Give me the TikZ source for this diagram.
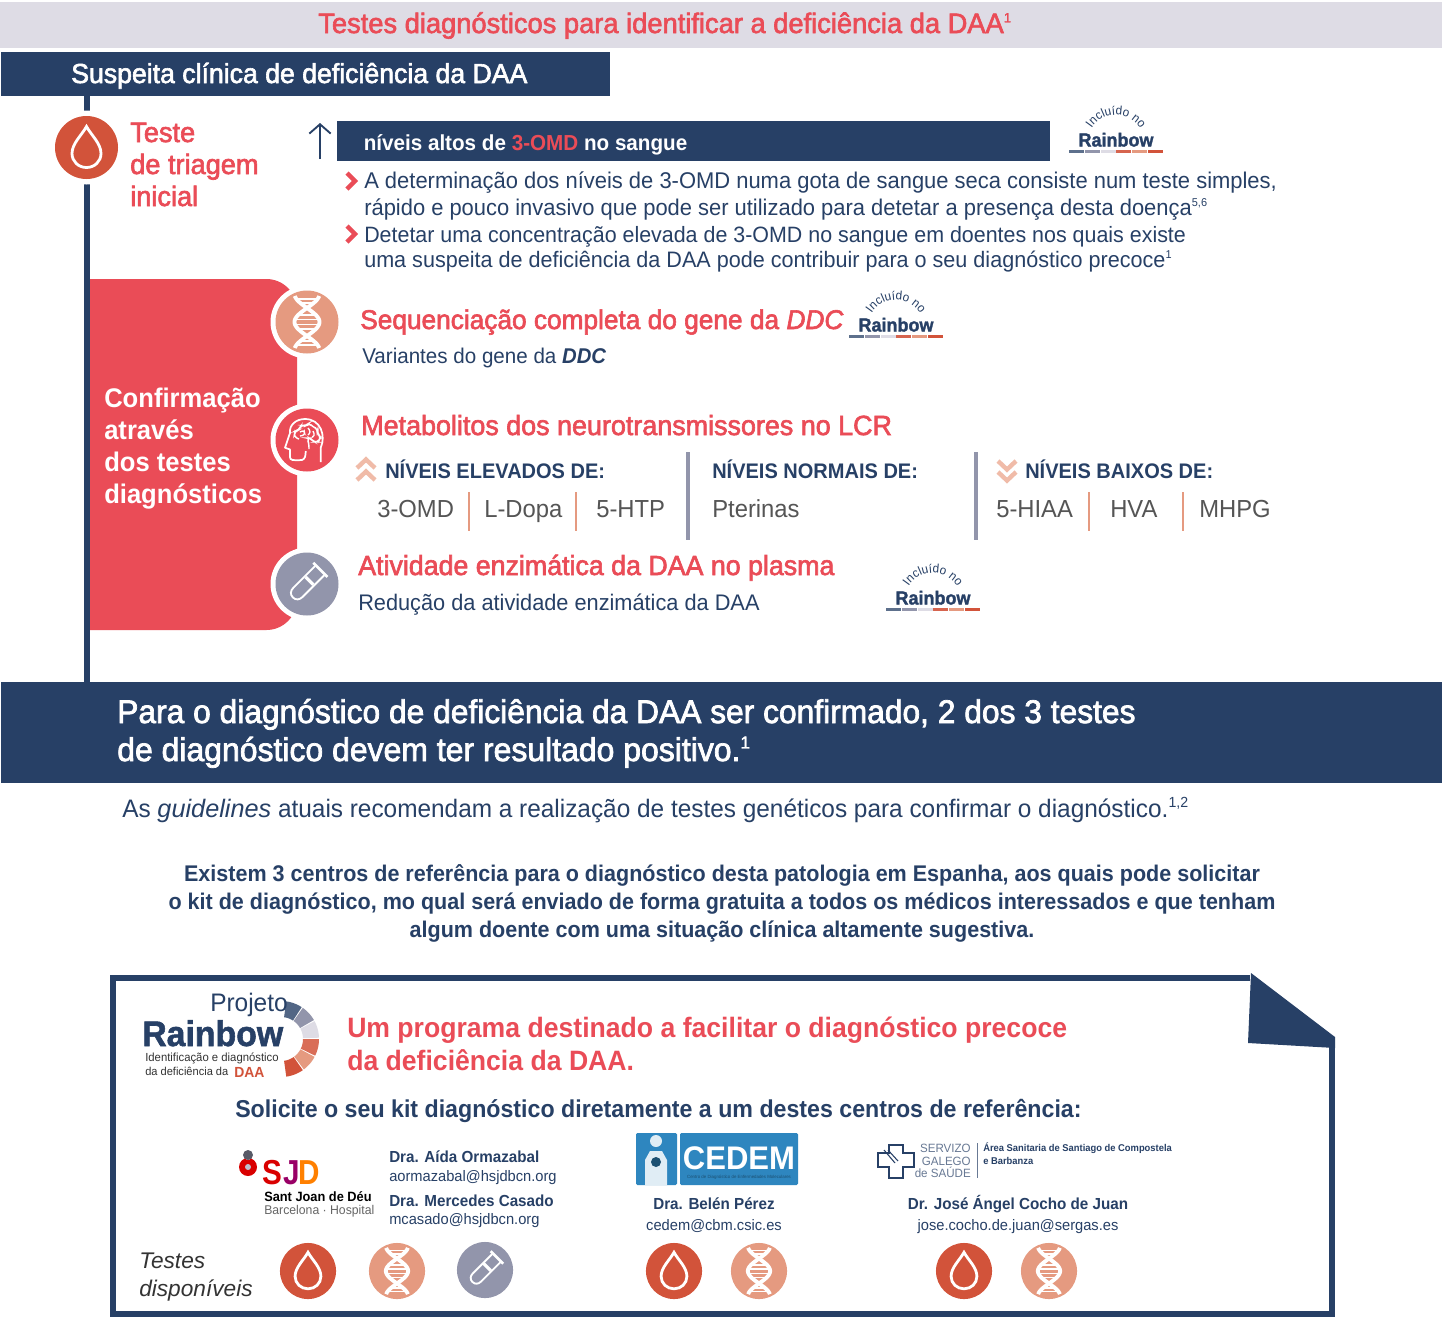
\documentclass[tikz,border=0pt]{standalone}
\usepackage{fontspec}
\setmainfont{Liberation Sans}[UprightFeatures={FakeStretch=.965},BoldFeatures={FakeStretch=.95},BoldItalicFeatures={FakeStretch=.95}]
\newfontfamily\medf{Liberation Sans}[FakeStretch=.97,FakeBold=2.2]
\newfontfamily\heavyf{Liberation Sans}[UprightFont={* Bold},FakeStretch=.95,FakeBold=1.5]
\usetikzlibrary{positioning,arrows.meta,decorations.text}
\definecolor{navy}{HTML}{274066}
\definecolor{redt}{HTML}{EA4C57}
\definecolor{rust}{HTML}{D2533A}
\definecolor{peach}{HTML}{E59A80}
\definecolor{slate}{HTML}{9295AB}
\definecolor{lilac}{HTML}{DEDCE5}
\definecolor{chev}{HTML}{F0BBA8}
\definecolor{darkt}{HTML}{555555}
\definecolor{cedem}{HTML}{2E86BF}
\newcommand{\fz}[1]{\fontsize{#1}{#1}\selectfont}
\newcommand{\sps}[2]{\raisebox{.38em}{\fz{#1}#2}}
\tikzset{
    x=0.75pt,y=-0.75pt,
    lbl/.style={anchor=base west,inner sep=0,text=navy},
    ctr/.style={anchor=base,inner sep=0,text=navy},
    head/.style={lbl,text=redt,font=\medf\fz{20.5}},
    sepline/.style={draw=peach,line width=1.6pt},
    levsep/.style={draw=slate,line width=3pt},
    doublechev/.style={draw=chev,line width=3.3pt,miter limit=10},
    pics/dropicon/.style={code={
        \fill[rust] (0,0) circle[radius=31.5];
        \draw[white,line width=2.1pt] (0,-21) .. controls (-5,-12) and (-14.5,-4) .. (-14.5,6)
            .. controls (-14.5,14) and (-8,20) .. (0,20) .. controls (8,20) and (14.5,14) .. (14.5,6)
            .. controls (14.5,-4) and (5,-12) .. (0,-21) -- cycle;
    }},
    pics/dnaicon/.style={code={
        \fill[peach] (0,0) circle[radius=31.5];
        \foreach \s in {1,-1} {
            \draw[white,line width=2.9pt] plot[domain=-26:26,samples=40,smooth] ({\s*12.5*cos(6.43*\x)},\x);
        }
        \foreach \r in {-23,-19,-7,-2.5,2.5,7,19,23} {
            \draw[white,line width=1.1pt] ({-12.5*abs(cos(6.43*\r))},\r) -- ({12.5*abs(cos(6.43*\r))},\r);
        }
    }},
    pics/brainicon/.style={code={
        \fill[redt] (0,0) circle[radius=31.5];
        %Head
        \draw[white,line width=1.3pt,line join=round] (13.7,22) -- (13.7,7.7) .. controls (19,-4) and (14,-21) .. (-2,-21)
            .. controls (-11,-21) and (-18,-15) .. (-17,-7) -- (-22,7.7) -- (-17,9.5) -- (-17,17)
            .. controls (-17,20.5) and (-14,20.5) .. (-5,20) .. controls (-2,19) and (-1.3,16) .. (-1.3,11);
        %Lobes
        \draw[white,line width=1.1pt,rounded corners=2.5pt] (-8,-1) -- (-13,-3) -- (-12,-9) -- (-8,-10) -- (-6,-15) -- (-1,-14)
            -- (2,-17) -- (6,-13) -- (11,-11) -- (10,-7) -- (14,-3) -- (11,2) -- (7,2) -- (3,-2) -- (0,-2) -- (2,4) -- (2,9);
        \draw[white,line width=1pt,rounded corners=2pt] (-7,-8) -- (-3,-10) -- (-2,-5) -- (-7,-4);
        \draw[white,line width=1pt,rounded corners=2pt] (1,-12) -- (4,-8) -- (1,-5) (6,-9) -- (8,-4) -- (5,-3);
    }},
    pics/tubeicon/.style={code={
        \fill[slate] (0,0) circle[radius=31.5];
        \begin{scope}[rotate=-45,shift={(-.5,-.5)}]
            \draw[white,line width=2.4pt] (-5.5,-3.5) -- (5.5,-3.5);
            \draw[white,line width=1.4pt] (-6.5,-18) -- (-6.5,13) .. controls (-6.5,17) and (-4,20) .. (0,20)
                .. controls (4,20) and (6.5,17) .. (6.5,13) -- (6.5,-18);
            \draw[white,line width=2pt] (-10,-19) -- (10,-19);
        \end{scope}
    }},
    pics/rainbowtag/.style={code={
        \path[postaction={decorate},decoration={text along path,text align=center,
            text={|\fz{9.2}\color{navy}|Incluído no}}] (-29,4) .. controls (-29,-12) and (-16,-25) .. (0,-25)
            .. controls (16,-25) and (29,-12) .. (29,4);
        \node[ctr] (word) at (0,6.5) {\heavyf\fz{14.2}Rainbow};
        \foreach \k/\c in {0/navy!75,1/slate,2/lilac,3/rust!90!white,4/peach,5/rust} {
            \fill[\c] (-47+\k*15.8,9.5) rectangle (-32+\k*15.8,12.5);
        }
    }},
}
\begin{document}
\begin{tikzpicture}
    \useasboundingbox (0,0) rectangle (1442,1318);
    \fill[white] (0,0) rectangle (1442,1318);
    %Title
    \fill[lilac] (0,2) rectangle (1442,48);
    \node[head,anchor=base west,font=\medf\fz{21.1}] (title) at (318,33) {Testes diagnósticos para identificar a deficiência da DAA\sps{10}{1}};
    %Spine
    \coordinate (spinetop) at (87,96);
    \coordinate (spinebot) at (87,683);
    \draw[navy,line width=4.5pt] (spinetop) -- (spinebot);
    \node[rectangle,fill=navy,anchor=north west,minimum width=456.75pt,minimum height=33pt,inner sep=0] (suspeita) at (1,52) {};
    \node[lbl,text=white,font=\medf\fz{20.6}] (suspeitatxt) at (71,83) {Suspeita clínica de deficiência da DAA};
    %Screening
    \fill[white] (86.5,147.5) circle[radius=37];
    \pic at (86.5,147.5) {dropicon};
    \node[head,font=\medf\fz{21}] (teste) at (130,142) {Teste};
    \node[head,font=\medf\fz{21}] (triagem) at (130,174) {de triagem};
    \node[head,font=\medf\fz{21}] (inicial) at (130,206) {inicial};
    \coordinate (arrowbot) at (320,159);
    \coordinate (arrowtop) at (320,123);
    \draw[-{Straight Barb[length=7pt,width=16pt]},navy,line width=1.4pt] (arrowbot) -- (arrowtop);
    \node[rectangle,fill=navy,anchor=north west,minimum width=534.75pt,minimum height=30pt,inner sep=0] (altos) at (337,121) {};
    \node[lbl,text=white] (altostxt) at (363.5,150) {\fz{16.3}\bfseries níveis altos de \textcolor{redt}{3-OMD} no sangue};
    \pic (tagA) at (1116,140) {rainbowtag};
    \foreach \y in {181,234} {
        \draw[redt,line width=3.2pt] (347,\y-8) -- (355,\y) -- (347,\y+8);
    }
    \node[lbl] (det1) at (364,188) {\fz{17.06}A determinação dos níveis de 3-OMD numa gota de sangue seca consiste num teste simples,};
    \node[lbl] (det2) at (364,215) {\fz{17.04}rápido e pouco invasivo que pode ser utilizado para detetar a presença desta doença\sps{8.5}{5,6}};
    \node[lbl] (det3) at (364,242) {\fz{16.65}Detetar uma concentração elevada de 3-OMD no sangue em doentes nos quais existe};
    \node[lbl] (det4) at (364,267) {\fz{16.77}uma suspeita de deficiência da DAA pode contribuir para o seu diagnóstico precoce\sps{8.5}{1}};
    %Confirmation panel
    \fill[redt] (90,630) -- (90,279) [rounded corners=23pt] -- (297,279) -- (297,630) [sharp corners] -- (90,630) -- cycle;
    \node[lbl,text=white] (conf1) at (104,407) {\fz{20.2}\bfseries Confirmação};
    \node[lbl,text=white] (conf2) at (104,439) {\fz{20.2}\bfseries através};
    \node[lbl,text=white] (conf3) at (104,471) {\fz{20.2}\bfseries dos testes};
    \node[lbl,text=white] (conf4) at (104,503) {\fz{20.2}\bfseries diagnósticos};
    \foreach \y in {322,440,584} {
        \fill[white] (307,\y) circle[radius=36.5];
    }
    \pic at (307,322) {dnaicon};
    \pic at (307,440) {brainicon};
    \pic at (307,584) {tubeicon};
    %Gene
    \node[head,font=\medf\fz{20.3}] (seq) at (360,329) {Sequenciação completa do gene da \textit{DDC}};
    \node[lbl] (variantes) at (362,363) {\fz{16}Variantes do gene da \textbf{\textit{DDC}}};
    \pic (tagB) at (896,325) {rainbowtag};
    %Metabolites
    \node[head,font=\medf\fz{20.8}] (meta) at (361,435) {Metabolitos dos neurotransmissores no LCR};
    \draw[doublechev] (357,468) -- (366,459.5) -- (375,468);
    \draw[doublechev] (357,480) -- (366,471.5) -- (375,480);
    \node[lbl] (elev) at (385,478) {\fz{15.8}\bfseries NÍVEIS ELEVADOS DE:};
    \node[lbl] (norm) at (712,478) {\fz{15.8}\bfseries NÍVEIS NORMAIS DE:};
    \draw[doublechev] (998,461) -- (1007,469.5) -- (1016,461);
    \draw[doublechev] (998,472) -- (1007,480.5) -- (1016,472);
    \node[lbl] (baix) at (1025,478) {\fz{15.8}\bfseries NÍVEIS BAIXOS DE:};
    \foreach \t/\x in {3-OMD/377,L-Dopa/484,5-HTP/596,Pterinas/712,5-HIAA/996,HVA/1110,MHPG/1199} {
        \node[lbl,text=darkt] (lev\x) at (\x,517) {\fz{18.5}\t};
    }
    \foreach \x in {469,576,1089,1183} {
        \coordinate (st\x) at (\x,492);
        \coordinate (sb\x) at (\x,531);
        \draw[sepline] (st\x) -- (sb\x);
    }
    \foreach \x in {688,976} {
        \coordinate (lt\x) at (\x,452);
        \coordinate (lb\x) at (\x,540);
        \draw[levsep] (lt\x) -- (lb\x);
    }
    %Enzyme
    \node[head,font=\medf\fz{20.7}] (ativ) at (358,575) {Atividade enzimática da DAA no plasma};
    \node[lbl] (redu) at (358,610) {\fz{16.9}Redução da atividade enzimática da DAA};
    \pic (tagC) at (933,598) {rainbowtag};
    %Band
    \fill[navy] (1,682) rectangle (1442,783);
    \node[lbl,text=white,font=\medf\fz{24.55}] (band1) at (117,723) {Para o diagnóstico de deficiência da DAA ser confirmado, 2 dos 3 testes};
    \node[lbl,text=white,font=\medf\fz{24.7}] (band2) at (117,761) {de diagnóstico devem ter resultado positivo.\sps{13}{1}};
    \node[lbl] (guid) at (122,817) {\fz{18.95}As \textit{guidelines} atuais recomendam a realização de testes genéticos para confirmar o diagnóstico.\sps{11}{1,2}};
    \node[ctr] (exist1) at (722,881) {\fz{17}\bfseries Existem 3 centros de referência para o diagnóstico desta patologia em Espanha, aos quais pode solicitar};
    \node[ctr] (exist2) at (722,909) {\fz{17}\bfseries o kit de diagnóstico, mo qual será enviado de forma gratuita a todos os médicos interessados e que tenham};
    \node[ctr] (exist3) at (722,937) {\fz{17}\bfseries algum doente com uma situação clínica altamente sugestiva.};
    %Sheet
    \draw[navy,line width=4.5pt,line join=miter] (1250,978) -- (113,978) -- (113,1314) -- (1332,1314) -- (1332,1040);
    \fill[navy] (1251,973) -- (1335,1037) -- (1335,1048) -- (1248,1043) -- cycle;
    %Project logo
    \foreach \a/\b/\c in {-82/-57/navy!80,-55/-30/slate,-28/-2/lilac,0/26/rust!85!white,28/53/peach,55/82/rust} {
        \fill[\c,shift={(281,1039)}] plot[domain=\a:\b,samples=12] (\x:38) -- plot[domain=\b:\a,samples=12] (\x:22) -- cycle;
    }
    \node[lbl] (projeto) at (210,1011) {\fz{19}Projeto};
    \node[lbl] (rainbow) at (142,1046) {\heavyf\fz{26.7}Rainbow};
    \node[lbl,text=black!80] (ident) at (145,1061) {\fz{8.8}Identificação e diagnóstico};
    \node[lbl,text=black!80] (ddaa) at (145,1075) {\fz{8.6}da deficiência da};
    \node[lbl,text=rust] (daa) at (234,1077) {\fz{11}\bfseries DAA};
    \node[lbl,text=redt] (prog1) at (347,1037) {\fz{21}\bfseries Um programa destinado a facilitar o diagnóstico precoce};
    \node[lbl,text=redt] (prog2) at (347,1070) {\fz{21}\bfseries da deficiência da DAA.};
    \node[lbl] (solic) at (235,1117) {\fz{18.3}\bfseries Solicite o seu kit diagnóstico diretamente a um destes centros de referência:};
    %SJD
    \fill[red!85!black] (248,1167) circle[radius=9];
    \fill[white] (248,1157) circle[radius=3];
    \fill[slate!60!black] (248,1155) circle[radius=5];
    \fill[slate!60!white] (248,1167) circle[radius=3];
    \node[lbl,text=red!85!black] (sjds) at (262,1184) {\scalebox{.9}[1]{\fz{26}\bfseries S}};
    \node[lbl,text=violet!80!red] (sjdj) at (283,1184) {\scalebox{.9}[1]{\fz{26}\bfseries J}};
    \node[lbl,text=orange] (sjdd) at (298,1184) {\scalebox{.9}[1]{\fz{26}\bfseries D}};
    \node[lbl,text=black] (sjd1) at (264,1201) {\fz{10.1}\bfseries Sant Joan de Déu};
    \node[lbl,text=black!60] (sjd2) at (264,1214) {\fz{9.5}Barcelona · Hospital};
    \node[lbl] (aida) at (389,1162) {\fz{12}\bfseries Dra. Aída Ormazabal};
    \node[lbl] (aidam) at (389,1181) {\fz{11.4}aormazabal@hsjdbcn.org};
    \node[lbl] (merc) at (389,1206) {\fz{12}\bfseries Dra. Mercedes Casado};
    \node[lbl] (mercm) at (389,1224) {\fz{11.4}mcasado@hsjdbcn.org};
    %CEDEM
    \fill[cedem,rounded corners=1pt] (636,1133) rectangle (677,1185);
    \fill[cedem,rounded corners=1pt] (680,1133) rectangle (798,1185);
    \fill[white!85!cedem] (656,1141) circle[radius=6];
    \fill[white!85!cedem] (645,1185) -- (645,1160) -- (650,1151) -- (662,1151) -- (667,1160) -- (667,1185) -- cycle;
    \fill[cedem!60!black] (656,1162) circle[radius=5];
    \node[ctr,text=white] (cedemtxt) at (739,1169) {\fz{24.5}\bfseries CEDEM};
    \node[ctr,text=cedem!60!black] (cedemsub) at (739,1178) {\fz{3.4}Centro de Diagnóstico de Enfermedades Moleculares};
    \node[ctr] (belen) at (714,1209) {\fz{12}\bfseries Dra. Belén Pérez};
    \node[ctr] (belenm) at (714,1230) {\fz{11.4}cedem@cbm.csic.es};
    %SERGAS
    \draw[navy,line width=1.3pt] (889,1145) -- (903,1145) -- (903,1153) -- (914,1153) -- (914,1167) -- (903,1167) -- (903,1178)
        -- (889,1178) -- (889,1167) -- (878,1167) -- (878,1153) -- (889,1153) -- cycle;
    \draw[navy,line width=.8pt] (884,1150) -- (895,1163) (888,1150) -- (898,1161);
    \node[anchor=base east,inner sep=0,text=navy!70] (ser1) at (971,1152) {\fz{9}SERVIZO};
    \node[anchor=base east,inner sep=0,text=navy!70] (ser2) at (971,1165) {\fz{9}GALEGO};
    \node[anchor=base east,inner sep=0,text=navy!70] (ser3) at (971,1177) {\fz{9}de SAÚDE};
    \coordinate (sertop) at (977,1143);
    \coordinate (serbot) at (977,1178);
    \draw[navy!70,line width=.4pt] (sertop) -- (serbot);
    \node[lbl,text=navy] (area1) at (983,1151) {\fz{7.4}\bfseries Área Sanitaria de Santiago de Compostela};
    \node[lbl,text=navy] (area2) at (983,1164) {\fz{7.4}\bfseries e Barbanza};
    \node[ctr] (jose) at (1018,1209) {\fz{12}\bfseries Dr. José Ángel Cocho de Juan};
    \node[ctr] (josem) at (1018,1230) {\fz{11.4}jose.cocho.de.juan@sergas.es};
    %Available tests
    \node[lbl,text=black!80] (disp1) at (139,1268) {\fz{17}\textit{Testes}};
    \node[lbl,text=black!80] (disp2) at (139,1296) {\fz{17}\textit{disponíveis}};
    \foreach \x in {308,674,964} {
        \pic[scale=.89] at (\x,1271) {dropicon};
    }
    \foreach \x in {397,759,1049} {
        \pic[scale=.89] at (\x,1271) {dnaicon};
    }
    \pic[scale=.89] at (485,1270) {tubeicon};
\end{tikzpicture}
\end{document}
